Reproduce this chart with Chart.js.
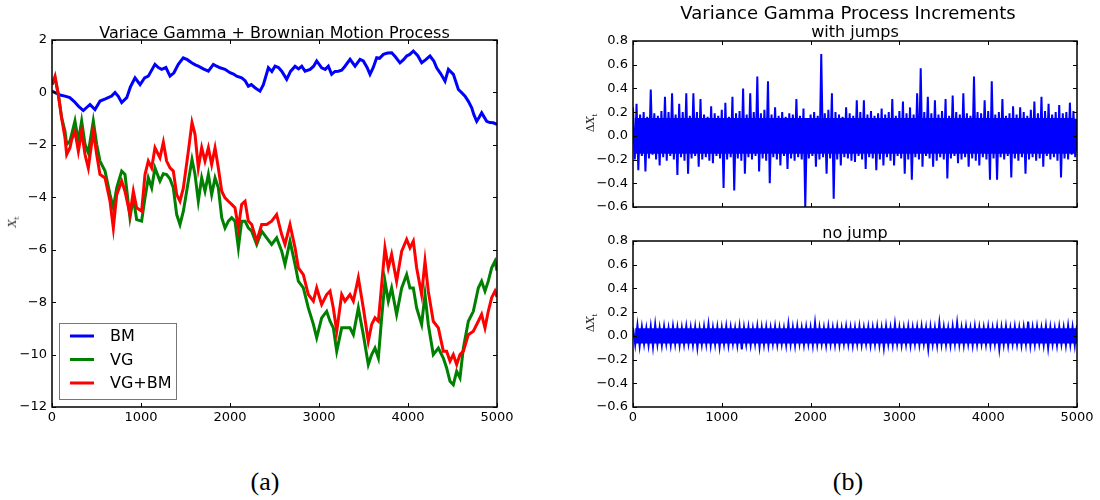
<!DOCTYPE html>
<html>
<head>
<meta charset="utf-8">
<script src="https://cdn.jsdelivr.net/npm/chart.js@4.4.1/dist/chart.umd.min.js"></script>
<style>
  html, body { margin: 0; padding: 0; background: #fff; }
  #page { position: relative; width: 1100px; height: 500px; overflow: hidden; font-family: 'DejaVu Sans', sans-serif; color: #000; }
  canvas { position: absolute; }
  .txt { position: absolute; white-space: nowrap; line-height: 1; transform: translateX(-50%); }
  .ylab { position: absolute; white-space: nowrap; line-height: 1; font-family: 'DejaVu Serif', serif; font-size: 11px; color: #222; transform: translate(-50%, -50%) rotate(-90deg); }
  .ylab sub { font-size: 7px; }
  .cap { position: absolute; font-family: 'Liberation Serif', serif; font-size: 26px; line-height: 1; transform: translateX(-50%); }
</style>
</head>
<body>
<div id="page">
  <canvas id="chart-a" width="520" height="440" style="left:0;top:0"></canvas>
  <canvas id="chart-b" width="540" height="215" style="left:560px;top:0"></canvas>
  <canvas id="chart-c" width="540" height="240" style="left:560px;top:215px"></canvas>

  <div class="txt" style="left:274.5px;top:24.5px;font-size:16px">Variace Gamma + Brownian Motion Process</div>
  <div class="txt" style="left:848px;top:4px;font-size:18px">Variance Gamma Process Increments</div>
  <div class="txt" style="left:855px;top:23.5px;font-size:16px">with jumps</div>
  <div class="txt" style="left:855px;top:224.5px;font-size:16px">no jump</div>

  <div class="ylab" style="left:14px;top:222px"><i>X</i><sub>t</sub></div>
  <div class="ylab" style="left:592px;top:123px">Δ<i>X</i><sub>t</sub></div>
  <div class="ylab" style="left:592px;top:323px">Δ<i>X</i><sub>t</sub></div>

  <div class="cap" style="left:265px;top:469px">(a)</div>
  <div class="cap" style="left:848px;top:469px">(b)</div>
</div>
<script>

  /* 
    ==================================================
    ====================== DATA ======================
    ==================================================
  */

  // brownian motion path (t, value)
  let bmT = [0, 40, 90, 146, 200, 250, 296, 352, 427, 483,
    540, 600, 670, 708, 745, 783, 840, 880, 933, 990,
    1040, 1082, 1157, 1195, 1232, 1280, 1326, 1370, 1419, 1475,
    1520, 1569, 1610, 1644, 1700, 1757, 1813, 1850, 1888, 1944,
    2000, 2040, 2075, 2131, 2170, 2206, 2240, 2281, 2337, 2375,
    2431, 2470, 2506, 2545, 2581, 2610, 2637, 2680, 2731, 2770,
    2806, 2843, 2900, 2940, 2974, 3030, 3070, 3105, 3142, 3180,
    3217, 3255, 3292, 3349, 3405, 3461, 3498, 3540, 3573, 3610,
    3648, 3680, 3723, 3770, 3817, 3860, 3910, 3950, 3985, 4020,
    4060, 4110, 4154, 4200, 4247, 4290, 4322, 4370, 4416, 4454,
    4510, 4566, 4600, 4641, 4680, 4716, 4740, 4772, 4800, 4828,
    4884, 4920, 4959, 5000];
  let bmV = [0.05, -0.02, -0.1, -0.14, -0.2, -0.35, -0.52, -0.69, -0.46, -0.65,
    -0.33, -0.25, -0.14, 0.0, -0.15, -0.39, -0.2, 0.2, 0.56, 0.3,
    0.55, 0.62, 1.07, 0.95, 0.88, 0.95, 0.62, 0.75, 1.07, 1.32,
    1.25, 1.13, 1.05, 1.0, 0.9, 0.81, 1.07, 1.0, 0.94, 0.88,
    0.75, 0.7, 0.62, 0.56, 0.45, 0.24, 0.3, 0.18, 0.05, 0.3,
    0.94, 0.8, 1.0, 0.95, 0.81, 0.65, 0.5, 0.8, 1.0, 0.9,
    1.0, 0.81, 0.88, 1.0, 1.2, 0.94, 0.88, 1.0, 0.69, 0.8,
    0.81, 0.85, 1.0, 1.26, 1.0, 1.26, 1.2, 0.95, 0.69, 0.95,
    1.32, 1.3, 1.45, 1.5, 1.51, 1.35, 1.13, 1.25, 1.39, 1.45,
    1.58, 1.4, 1.13, 1.25, 1.39, 1.2, 0.94, 0.7, 0.43, 0.88,
    0.69, 0.11, 0.0, -0.14, -0.35, -0.59, -0.85, -1.1, -0.95, -0.78,
    -1.1, -1.15, -1.16, -1.22];

  // VG and VG+BM paths share the same t positions
  let pathT = [0, 34, 71, 109, 146, 165, 202, 221, 258, 296,
    333, 371, 408, 464, 502, 539, 596, 652, 689, 727,
    783, 820, 876, 914, 951, 1007, 1045, 1082, 1120, 1157,
    1213, 1251, 1288, 1326, 1363, 1401, 1438, 1476, 1532, 1573,
    1607, 1644, 1682, 1719, 1757, 1794, 1832, 1869, 1907, 1944,
    1982, 2019, 2056, 2094, 2131, 2169, 2206, 2244, 2300, 2356,
    2412, 2468, 2524, 2581, 2618, 2674, 2731, 2768, 2824, 2880,
    2937, 2974, 3030, 3086, 3124, 3161, 3199, 3255, 3292, 3348,
    3386, 3442, 3498, 3554, 3592, 3629, 3667, 3704, 3741, 3779,
    3816, 3872, 3929, 3985, 4022, 4060, 4097, 4153, 4191, 4228,
    4284, 4341, 4397, 4434, 4472, 4509, 4547, 4584, 4622, 4678,
    4734, 4790, 4827, 4865, 4902, 4940, 4977, 5000];
  let vgV = [0.3, 0.55, -0.08, -0.97, -1.48, -1.98, -1.86, -1.6, -1.09, -1.86,
    -1.09, -1.98, -2.3, -1.09, -1.98, -2.62, -3.0, -3.9, -4.4, -3.64,
    -3.0, -3.13, -4.78, -4.02, -4.85, -4.91, -4.02, -3.26, -3.64, -2.88,
    -3.38, -3.1, -3.13, -3.3, -3.64, -4.66, -5.04, -4.53, -3.38, -2.56,
    -3.13, -4.15, -3.26, -3.77, -3.13, -3.9, -3.26, -3.64, -4.78, -5.17,
    -4.91, -4.78, -4.91, -5.93, -4.91, -4.91, -5.17, -5.29, -5.8, -5.29,
    -5.55, -5.8, -5.55, -6.06, -6.56, -5.67, -6.56, -7.2, -7.46, -8.22,
    -8.85, -9.36, -8.6, -8.35, -8.73, -8.98, -9.87, -8.98, -8.98, -8.98,
    -9.24, -8.22, -9.24, -10.38, -10.0, -9.75, -10.13, -8.6, -7.2, -7.96,
    -7.46, -8.47, -7.46, -6.95, -7.46, -7.46, -8.22, -8.85, -7.71, -8.85,
    -10.0, -9.75, -10.13, -10.51, -11.02, -11.15, -10.64, -10.89, -9.75, -8.73,
    -8.35, -7.46, -7.2, -7.58, -7.2, -6.69, -6.44, -6.8];
  let vgbmV = [0.3, 0.62, -0.08, -1.0, -1.73, -2.37, -2.11, -1.8, -1.48, -2.24,
    -1.48, -2.37, -2.88, -1.48, -2.37, -3.13, -3.26, -4.15, -5.17, -3.9,
    -3.38, -3.77, -4.66, -3.77, -4.4, -4.53, -3.13, -2.62, -2.88, -2.11,
    -2.49, -1.9, -2.62, -2.88, -3.0, -3.9, -4.15, -3.64, -2.24, -1.15,
    -1.6, -2.88, -2.11, -2.62, -2.11, -2.75, -2.11, -2.88, -3.77, -4.02,
    -4.15, -4.27, -4.4, -5.17, -4.27, -4.15, -4.91, -5.04, -5.67, -5.04,
    -5.04, -4.91, -4.66, -5.42, -5.8, -5.04, -5.93, -6.69, -6.95, -7.71,
    -7.96, -7.46, -8.09, -7.71, -7.58, -8.22, -9.11, -7.71, -7.96, -7.71,
    -7.96, -7.07, -8.22, -9.49, -8.85, -8.6, -8.73, -7.33, -5.93, -6.69,
    -6.18, -7.2, -6.06, -5.61, -5.93, -5.67, -6.69, -7.71, -6.44, -7.58,
    -8.73, -8.98, -9.87, -9.87, -10.25, -10.0, -10.38, -10.0, -9.87, -9.24,
    -9.11, -8.73, -8.47, -8.98, -8.35, -7.83, -7.58, -7.8];

  // increments with jumps: local highs / lows, one pair every 40 steps
  let jumpStep = 40;
  let jumpCore = 0.15; // the band is solid up to about here
  let jumpHi = [0.24, 0.27, 0.18, 0.2, 0.16, 0.39, 0.19, 0.17, 0.21, 0.33,
    0.2, 0.36, 0.18, 0.27, 0.2, 0.36, 0.17, 0.36, 0.2, 0.31,
    0.18, 0.16, 0.25, 0.19, 0.17, 0.22, 0.28, 0.16, 0.33, 0.19,
    0.21, 0.4, 0.18, 0.36, 0.2, 0.5, 0.19, 0.22, 0.46, 0.18,
    0.24, 0.17, 0.2, 0.16, 0.19, 0.18, 0.31, 0.17, 0.23, 0.15,
    0.18, 0.2, 0.17, 0.69, 0.19, 0.22, 0.36, 0.2, 0.18, 0.16,
    0.24, 0.19, 0.17, 0.3, 0.2, 0.3, 0.18, 0.21, 0.17, 0.19,
    0.23, 0.18, 0.2, 0.31, 0.17, 0.21, 0.29, 0.19, 0.24, 0.18,
    0.36, 0.57, 0.2, 0.33, 0.19, 0.3, 0.18, 0.21, 0.31, 0.17,
    0.34, 0.2, 0.18, 0.36, 0.19, 0.17, 0.5, 0.2, 0.19, 0.3,
    0.21, 0.46, 0.18, 0.2, 0.31, 0.17, 0.19, 0.25, 0.18, 0.24,
    0.2, 0.17, 0.22, 0.29, 0.19, 0.33, 0.21, 0.27, 0.18, 0.2,
    0.26, 0.19, 0.2, 0.28, 0.21, 0.14];
  let jumpLo = [-0.2, -0.29, -0.17, -0.3, -0.19, -0.16, -0.2, -0.25, -0.18, -0.21,
    -0.17, -0.2, -0.33, -0.18, -0.21, -0.32, -0.19, -0.17, -0.26, -0.2,
    -0.18, -0.21, -0.23, -0.17, -0.19, -0.44, -0.2, -0.18, -0.46, -0.19,
    -0.21, -0.32, -0.18, -0.2, -0.17, -0.3, -0.19, -0.21, -0.4, -0.18,
    -0.2, -0.25, -0.17, -0.28, -0.19, -0.21, -0.18, -0.2, -0.6, -0.19,
    -0.17, -0.26, -0.2, -0.18, -0.32, -0.19, -0.53, -0.2, -0.25, -0.18,
    -0.19, -0.21, -0.22, -0.17, -0.2, -0.28, -0.18, -0.19, -0.29, -0.2,
    -0.25, -0.18, -0.21, -0.25, -0.17, -0.19, -0.32, -0.2, -0.37, -0.18,
    -0.2, -0.26, -0.17, -0.19, -0.26, -0.21, -0.18, -0.2, -0.36, -0.19,
    -0.17, -0.23, -0.2, -0.18, -0.26, -0.19, -0.21, -0.25, -0.18, -0.2,
    -0.37, -0.19, -0.37, -0.18, -0.2, -0.17, -0.35, -0.19, -0.21, -0.18,
    -0.32, -0.2, -0.18, -0.21, -0.19, -0.26, -0.17, -0.2, -0.18, -0.21,
    -0.35, -0.19, -0.2, -0.16, -0.18, -0.12];

  // increments without jumps, one pair every 50 steps
  let flatStep = 50;
  let flatCore = 0.065;
  let flatHi = [0.07, 0.09, 0.075, 0.065, 0.08, 0.096, 0.07, 0.078, 0.066, 0.08,
    0.072, 0.068, 0.08, 0.07, 0.075, 0.065, 0.078, 0.096, 0.07, 0.074,
    0.068, 0.08, 0.072, 0.066, 0.078, 0.07, 0.074, 0.065, 0.08, 0.07,
    0.075, 0.068, 0.078, 0.07, 0.065, 0.099, 0.072, 0.08, 0.068, 0.075,
    0.07, 0.11, 0.074, 0.068, 0.08, 0.07, 0.075, 0.066, 0.078, 0.07,
    0.072, 0.08, 0.068, 0.075, 0.07, 0.078, 0.066, 0.08, 0.07, 0.1,
    0.072, 0.068, 0.078, 0.07, 0.075, 0.08, 0.068, 0.074, 0.07, 0.11,
    0.075, 0.068, 0.08, 0.11, 0.07, 0.078, 0.066, 0.08, 0.072, 0.07,
    0.078, 0.068, 0.075, 0.07, 0.08, 0.066, 0.078, 0.07, 0.075, 0.12,
    0.07, 0.078, 0.068, 0.08, 0.072, 0.066, 0.078, 0.07, 0.085, 0.075,
    0.09];
  let flatLo = [-0.075, -0.085, -0.07, -0.08, -0.093, -0.072, -0.08, -0.068, -0.078, -0.07,
    -0.08, -0.072, -0.068, -0.078, -0.1, -0.075, -0.07, -0.08, -0.072, -0.093,
    -0.07, -0.078, -0.068, -0.08, -0.115, -0.072, -0.078, -0.07, -0.093, -0.075,
    -0.08, -0.068, -0.075, -0.07, -0.078, -0.072, -0.08, -0.068, -0.075, -0.07,
    -0.078, -0.072, -0.068, -0.08, -0.07, -0.075, -0.078, -0.068, -0.072, -0.08,
    -0.07, -0.075, -0.068, -0.078, -0.072, -0.08, -0.1, -0.07, -0.075, -0.068,
    -0.078, -0.072, -0.08, -0.07, -0.075, -0.068, -0.11, -0.072, -0.078, -0.07,
    -0.075, -0.08, -0.068, -0.072, -0.078, -0.07, -0.08, -0.075, -0.068, -0.072,
    -0.078, -0.07, -0.11, -0.075, -0.08, -0.068, -0.072, -0.078, -0.07, -0.08,
    -0.075, -0.068, -0.078, -0.1, -0.072, -0.08, -0.07, -0.078, -0.075, -0.08,
    -0.07];

  // tick values
  let xTickVals = [0, 1000, 2000, 3000, 4000, 5000];
  let yTickValsA = [-12, -10, -8, -6, -4, -2, 0, 2];
  let yTickValsB = [-0.6, -0.4, -0.2, 0, 0.2, 0.4, 0.6, 0.8];

  /* 
    ==================================================
    ===================== HELPERS =====================
    ==================================================
  */

  let pts = (xs, ys) => xs.map((x, i) => ({ x, y: ys[i] }));
  // a high then a low inside every step, so the line swings through the band
  let zigzag = (hi, lo, step) => hi.flatMap((v, i) => [
    { x: i * step, y: v },
    { x: i * step + step / 2, y: lo[i] }
  ]).filter(p => p.x <= 5000);
  let minus = s => String(s).replace('-', '\u2212');
  let axisFont = { family: 'DejaVu Sans', size: 13 };

  let fixWidth = w => s => { s.width = w; s.paddingTop = 0; s.paddingBottom = 0; };
  let fixHeight = h => s => { s.height = h; s.paddingLeft = 0; s.paddingRight = 0; };

  // frame on four sides and inward ticks, like matplotlib classic
  let frameTicks = {
    id: 'frameTicks',
    afterDatasetsDraw(chart, args, opts) {
      let { ctx, chartArea: a, scales } = chart;
      ctx.save();
      ctx.strokeStyle = '#000';
      ctx.lineWidth = 1;
      ctx.beginPath();
      opts.x.forEach(v => {
        let px = Math.round(scales.x.getPixelForValue(v)) + 0.5;
        ctx.moveTo(px, a.bottom); ctx.lineTo(px, a.bottom - 4);
        ctx.moveTo(px, a.top); ctx.lineTo(px, a.top + 4);
      });
      opts.y.forEach(v => {
        let py = Math.round(scales.y.getPixelForValue(v)) + 0.5;
        ctx.moveTo(a.left, py); ctx.lineTo(a.left + 4, py);
        ctx.moveTo(a.right, py); ctx.lineTo(a.right - 4, py);
      });
      ctx.stroke();
      ctx.lineWidth = 1.5;
      ctx.strokeRect(a.left, a.top, a.right - a.left, a.bottom - a.top);
      ctx.restore();
    }
  };

  // boxed legend in the lower left corner of the plot
  let boxLegend = {
    id: 'boxLegend',
    afterDraw(chart) {
      let { ctx, chartArea: a } = chart;
      let left = a.left + 7, top = a.bottom - 84;
      ctx.save();
      ctx.fillStyle = '#fff';
      ctx.fillRect(left, top, 117, 76);
      ctx.strokeStyle = '#777';
      ctx.lineWidth = 1;
      ctx.strokeRect(left + 0.5, top + 0.5, 117, 76);
      ctx.font = '16px "DejaVu Sans"';
      ctx.textBaseline = 'middle';
      chart.data.datasets.forEach((ds, i) => {
        let yy = top + 13 + i * 23.5;
        ctx.strokeStyle = ds.borderColor;
        ctx.lineWidth = 3;
        ctx.beginPath();
        ctx.moveTo(left + 11, yy);
        ctx.lineTo(left + 35, yy);
        ctx.stroke();
        ctx.fillStyle = '#000';
        ctx.fillText(ds.label, left + 51, yy + 1);
      });
      ctx.restore();
    }
  };

  function baseOptions(pad, yMin, yMax, yStep, yFmt, xHeight, showX, ticks) {
    return {
      responsive: false,
      animation: false,
      devicePixelRatio: 1,
      events: [],
      layout: { padding: pad },
      elements: { point: { radius: 0 }, line: { tension: 0 } },
      scales: {
        x: {
          type: 'linear', min: 0, max: 5000,
          afterFit: fixHeight(xHeight),
          grid: { display: false, drawTicks: false },
          border: { display: false },
          ticks: { display: showX, stepSize: 1000, padding: 3, color: '#000', font: axisFont, maxRotation: 0, callback: v => String(v) }
        },
        y: {
          type: 'linear', min: yMin, max: yMax,
          afterFit: fixWidth(pad.yWidth),
          grid: { display: false, drawTicks: false },
          border: { display: false },
          ticks: { stepSize: yStep, padding: 5, color: '#000', font: axisFont, callback: yFmt }
        }
      },
      plugins: {
        legend: { display: false },
        tooltip: { enabled: false },
        frameTicks: ticks
      }
    };
  }

  let fmtInt = v => minus(v);
  let fmtDec = v => Math.abs(v) < 1e-9 ? '0.0' : minus(v.toFixed(1));

  /* 
    ==================================================
    ===================== CHART A =====================
    ==================================================
  */

  new Chart(document.getElementById('chart-a'), {
    type: 'line',
    data: {
      datasets: [
        { label: 'BM', data: pts(bmT, bmV), borderColor: '#0000ff', borderWidth: 3, fill: false, order: 2 },
        { label: 'VG', data: pts(pathT, vgV), borderColor: '#008000', borderWidth: 3, fill: false, order: 1 },
        { label: 'VG+BM', data: pts(pathT, vgbmV), borderColor: '#ff0000', borderWidth: 3, fill: false, order: 0 }
      ]
    },
    options: baseOptions({ top: 40, right: 23, left: 0, bottom: 0, yWidth: 52 }, -12, 2, 2, fmtInt, 33, true,
      { x: xTickVals, y: yTickValsA }),
    plugins: [frameTicks, boxLegend]
  });

  /* 
    ==================================================
    ================== CHARTS B / C ==================
    ==================================================
  */

  // solid core of the band (filled) plus the swinging line for the spikes
  function incSets(hi, lo, step, core) {
    let ts = hi.map((_, i) => i * step);
    let tl = lo.map((_, i) => Math.min(i * step + step / 2, 5000));
    return [
      { data: pts(ts, hi.map(v => Math.min(v, core))), borderWidth: 0, backgroundColor: '#0000ff', fill: '+1' },
      { data: pts(tl, lo.map(v => Math.max(v, -core))), borderWidth: 0, backgroundColor: '#0000ff', fill: false },
      { data: zigzag(hi, lo, step), borderColor: '#0000ff', borderWidth: 2, fill: false }
    ];
  }

  new Chart(document.getElementById('chart-b'), {
    type: 'line',
    data: { datasets: incSets(jumpHi, jumpLo, jumpStep, jumpCore) },
    options: baseOptions({ top: 41, right: 23, left: 0, bottom: 0, yWidth: 73 }, -0.6, 0.8, 0.2, fmtDec, 8, false,
      { x: xTickVals, y: yTickValsB }),
    plugins: [frameTicks]
  });

  new Chart(document.getElementById('chart-c'), {
    type: 'line',
    data: { datasets: incSets(flatHi, flatLo, flatStep, flatCore) },
    options: baseOptions({ top: 26, right: 23, left: 0, bottom: 0, yWidth: 73 }, -0.6, 0.8, 0.2, fmtDec, 48, true,
      { x: xTickVals, y: yTickValsB }),
    plugins: [frameTicks]
  });

</script>
</body>
</html>
